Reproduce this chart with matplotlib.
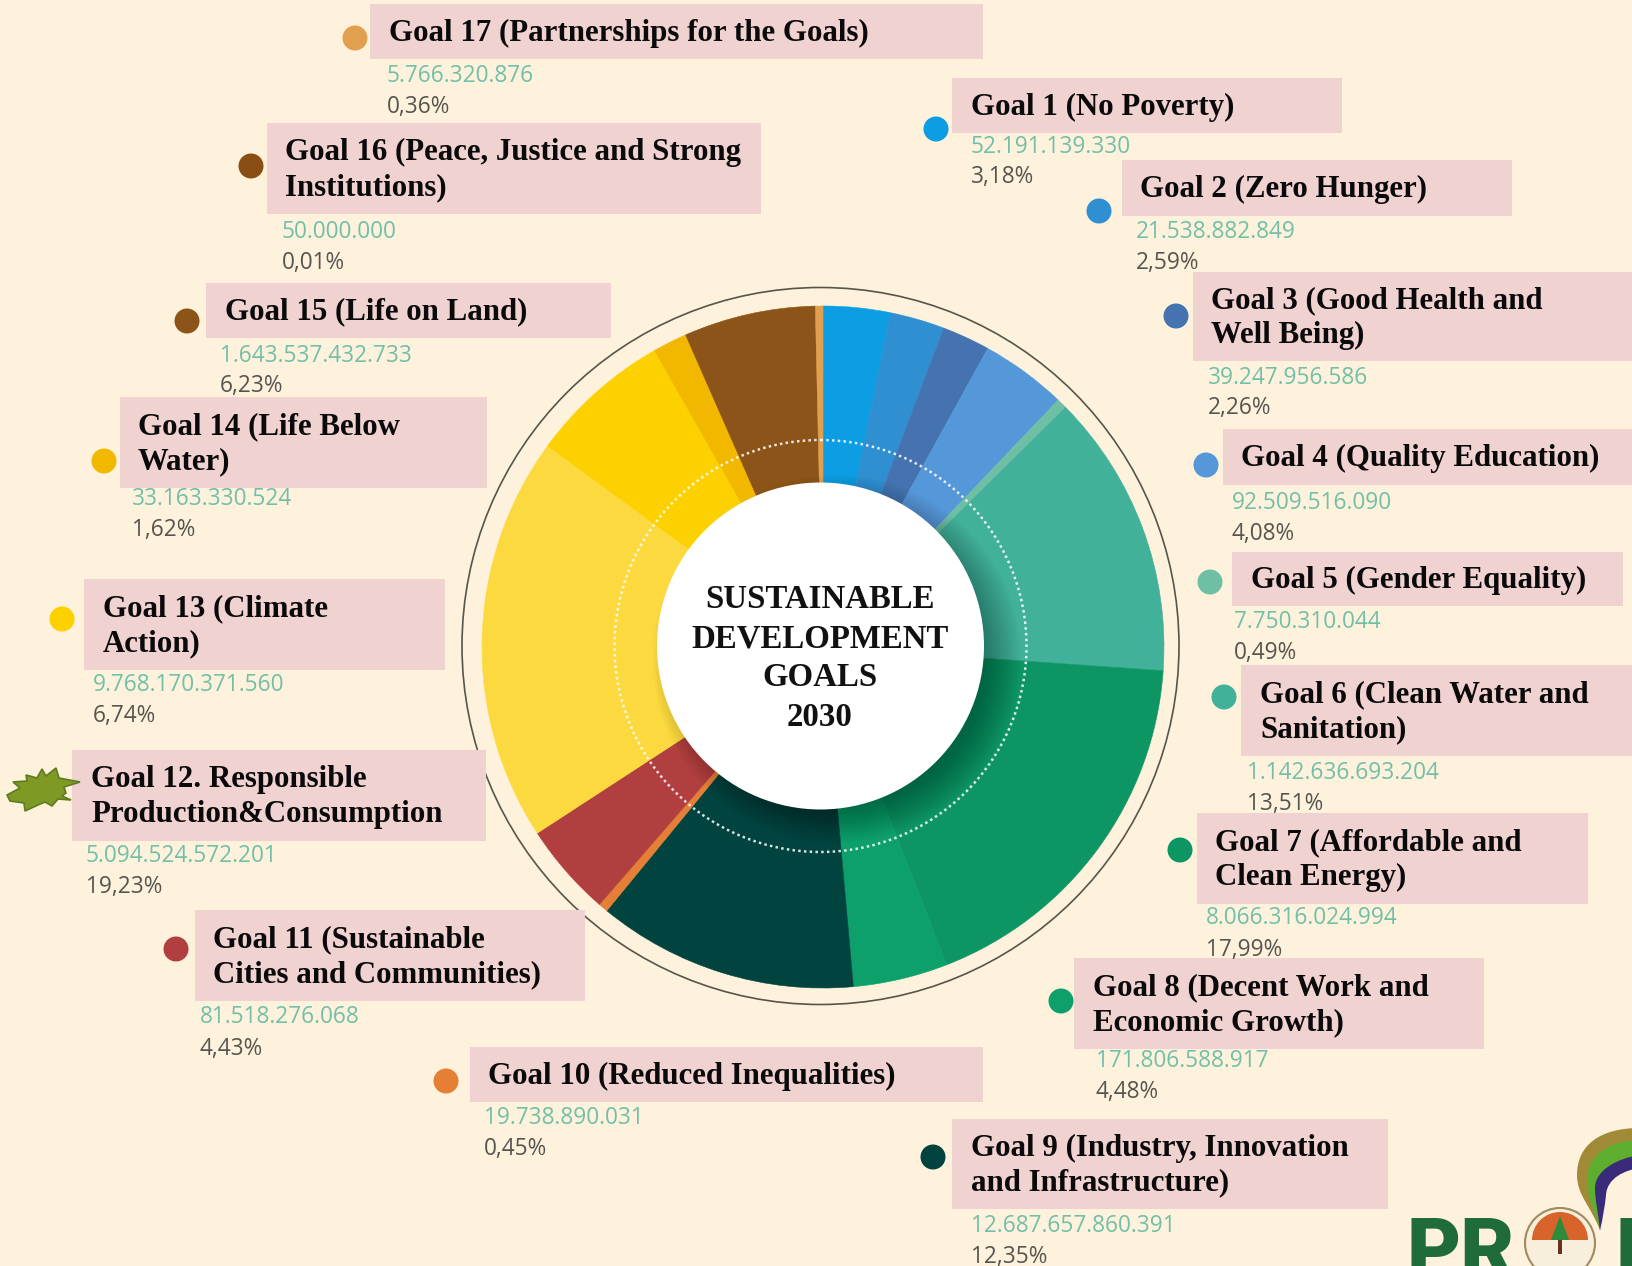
import matplotlib
matplotlib.use('Agg')
import matplotlib.pyplot as plt
from matplotlib.patches import Circle, Rectangle, Polygon, PathPatch, Wedge
from matplotlib.path import Path

W, H = 1633, 1266
BG = '#FFF2DC'
BOX = '#F0D2D0'
SERIF = 'Liberation Serif'
SANS = 'Open Sans'

# data
names = ['Goal 1 (No Poverty)', 'Goal 2 (Zero Hunger)', 'Goal 3 (Good Health and\nWell Being)',
         'Goal 4 (Quality Education)', 'Goal 5 (Gender Equality)', 'Goal 6 (Clean Water and\nSanitation)',
         'Goal 7 (Affordable and\nClean Energy)', 'Goal 8 (Decent Work and\nEconomic Growth)',
         'Goal 9 (Industry, Innovation\nand Infrastructure)', 'Goal 10 (Reduced Inequalities)',
         'Goal 11 (Sustainable\nCities and Communities)', 'Goal 12. Responsible\nProduction&Consumption',
         'Goal 13 (Climate\nAction)', 'Goal 14 (Life Below\nWater)', 'Goal 15 (Life on Land)',
         'Goal 16 (Peace, Justice and Strong\nInstitutions)', 'Goal 17 (Partnerships for the Goals)']
amounts = ['52.191.139.330', '21.538.882.849', '39.247.956.586', '92.509.516.090', '7.750.310.044',
           '1.142.636.693.204', '8.066.316.024.994', '171.806.588.917', '12.687.657.860.391',
           '19.738.890.031', '81.518.276.068', '5.094.524.572.201', '9.768.170.371.560',
           '33.163.330.524', '1.643.537.432.733', '50.000.000', '5.766.320.876']
shares = [3.18, 2.59, 2.26, 4.08, 0.49, 13.51, 17.99, 4.48, 12.35, 0.45, 4.43, 19.23, 6.74, 1.62, 6.23, 0.01, 0.36]
colors = ['#0D9DE3', '#2F8FD0', '#4473B0', '#5598DA', '#6FBFA5', '#41B19A', '#0D9564', '#0DA06B', '#00433F',
          '#E57F35', '#B13F3F', '#FCDA3F', '#FDD000', '#F2B800', '#8C5418', '#8A4E14', '#E0A050']

# layout in pixels: box (x0, y0, x1, y1), dot (x, y), text x, amount (x, y), share y
boxes = [(952, 78, 1342, 133), (1122, 160, 1512, 216), (1193, 272, 1633, 361), (1223, 429, 1633, 485),
         (1232, 552, 1623, 606), (1241, 665, 1633, 756), (1197, 813, 1588, 904), (1074, 958, 1484, 1049),
         (952, 1119, 1388, 1209), (470, 1047, 983, 1102), (195, 910, 585, 1001), (72, 750, 486, 841),
         (84, 579, 445, 670), (120, 397, 487, 488), (206, 283, 611, 338), (267, 123, 761, 214), (370, 4, 983, 59)]
dots = [(936, 129), (1099, 211), (1176, 316), (1206, 465), (1210, 582), (1224, 697), (1180, 850), (1061, 1001),
        (933, 1157), (446, 1081), (176, 949), None, (62, 619), (104, 461), (187, 321), (251, 166), (355, 38)]
text_x = [972, 1141, 1212, 1242, 1252, 1261, 1216, 1094, 972, 489, 214, 92, 104, 139, 226, 286, 390]
amount_xy = [(971, 147), (1136, 232), (1208, 378), (1232, 503), (1234, 622), (1247, 773), (1206, 918), (1096, 1061),
             (971, 1226), (484, 1118), (200, 1017), (86, 856), (93, 685), (132, 499), (220, 356), (282, 232), (387, 76)]
share_y = [177, 263, 408, 534, 653, 804, 950, 1092, 1257, 1149, 1049, 887, 716, 530, 386, 263, 107]

fig = plt.figure(figsize=(W / 100, H / 100), dpi=100, facecolor=BG)

# donut itself, sits slightly right of the hole in the source
cx, cy, r = 823, 647, 341
pie_ax = fig.add_axes([(cx - r) / W, 1 - (cy + r) / H, 2 * r / W, 2 * r / H])
wedges, _ = pie_ax.pie(shares, colors=colors, startangle=90, counterclock=False, radius=1)
for w, c in zip(wedges, colors):
    w.set_edgecolor(c)
    w.set_linewidth(0.4)
pie_ax.set_xlim(-1, 1)
pie_ax.set_ylim(-1, 1)

# overlay in pixel coords for everything else
ax = fig.add_axes([0, 0, 1, 1])
ax.set_xlim(0, W)
ax.set_ylim(H, 0)
ax.axis('off')

# soft shadow of the hole, only shows lower right
for i in range(14):
    ax.add_patch(Circle((836.5, 659), 150 + i * 2.6, fc='black', ec='none', alpha=0.024, zorder=1))
ax.add_patch(Circle((820.5, 646), 206, fc='none', ec='white', lw=1.8, ls=(0, (1, 1.3)), alpha=0.85, zorder=2))
ax.add_patch(Circle((820.5, 646), 163.5, fc='white', ec='none', zorder=3))
ax.add_patch(Circle((820.5, 646), 358.5, fc='none', ec='#55554A', lw=1.2, zorder=2))

for line, y in zip(['SUSTAINABLE', 'DEVELOPMENT', 'GOALS', '2030'], [600, 639, 678, 717]):
    ax.text(820, y, line, family=SERIF, weight='bold', fontsize=23.7, color='#111111',
            ha='center', va='center', zorder=4)

for i, name in enumerate(names):
    x0, y0, x1, y1 = boxes[i]
    ax.add_patch(Rectangle((x0, y0), x1 - x0, y1 - y0, fc=BOX, ec='none', zorder=5))
    lines = name.split('\n')
    ym = (y0 + y1) / 2 + 1.5
    for j, line in enumerate(lines):
        y = ym + (j - (len(lines) - 1) / 2) * 35
        ax.text(text_x[i] - 1, y, line, family=SERIF, weight='bold', fontsize=22.2, color='#0A0A0A',
                ha='left', va='center', zorder=6)
    if dots[i] is not None:
        ax.add_patch(Circle(dots[i], 12.5, fc=colors[i], ec='none', zorder=6))
    ax.text(amount_xy[i][0], amount_xy[i][1], amounts[i], family=SANS, fontsize=16.3, color='#72BFA8',
            ha='left', va='center', zorder=6)
    ax.text(amount_xy[i][0], share_y[i], str(shares[i]).replace('.', ',').ljust(4, '0') + '%', family=SANS,
            fontsize=16.3, color='#555550', ha='left', va='center', zorder=6)

# spiky marker next to goal 12
star = [(7, 795), (20, 788), (13, 782), (27, 781), (26, 775), (37, 778), (42, 769), (46, 776), (56, 768),
        (59, 778), (80, 782), (64, 787), (66, 793), (62, 796), (71, 800), (58, 799), (52, 806), (45, 802),
        (38, 805), (25, 811), (24, 803), (10, 801)]
ax.add_patch(Polygon(star, closed=True, fc='#7E9A24', ec='#5F7A20', lw=1.2, zorder=6))

# logo, cut by the page edge
def swoosh(pts, color):
    codes = [Path.MOVETO, Path.CURVE4, Path.CURVE4, Path.CURVE4, Path.CURVE4, Path.CURVE4, Path.CURVE4,
             Path.LINETO, Path.CLOSEPOLY]
    ax.add_patch(PathPatch(Path(pts, codes), fc=color, ec='none', zorder=6))

tip = (1600, 1230)
swoosh([(1640, 1128), (1600, 1128), (1577, 1145), (1577, 1175), (1577, 1195), (1590, 1205), tip,
        (1640, 1128), (1640, 1128)], '#A08A35')
swoosh([(1640, 1140), (1610, 1140), (1587, 1155), (1587, 1180), (1587, 1198), (1595, 1210), tip,
        (1640, 1140), (1640, 1140)], '#5DAE2E')
swoosh([(1640, 1155), (1618, 1158), (1595, 1170), (1595, 1188), (1595, 1200), (1598, 1212), tip,
        (1640, 1155), (1640, 1155)], '#3A2A7A')
swoosh([(1640, 1168), (1625, 1170), (1607, 1178), (1606, 1195), (1605, 1205), (1603, 1218), tip,
        (1640, 1168), (1640, 1168)], BG)
ax.text(1407, 1277, 'PR', family='Roboto', weight='black', fontsize=60, color='#1F6B3A', ha='left',
        va='baseline', clip_on=True, zorder=6)
ax.text(1616, 1277, 'P', family='Roboto', weight='black', fontsize=60, color='#1F6B3A', ha='left',
        va='baseline', clip_on=True, zorder=6)
ax.add_patch(Circle((1560, 1243), 35, fc='#F7EEDC', ec='#A08A60', lw=1.5, zorder=7))
ax.add_patch(Wedge((1560, 1240), 28, 180, 360, fc='#D9642B', ec='none', zorder=8))
ax.add_patch(Polygon([(1560, 1216), (1551, 1240), (1569, 1240)], closed=True, fc='#2E8B3C', ec='none', zorder=9))
ax.add_patch(Rectangle((1558, 1240), 4, 14, fc='#6A2F20', ec='none', zorder=9))

fig.savefig('out.png', dpi=100, facecolor=BG)
